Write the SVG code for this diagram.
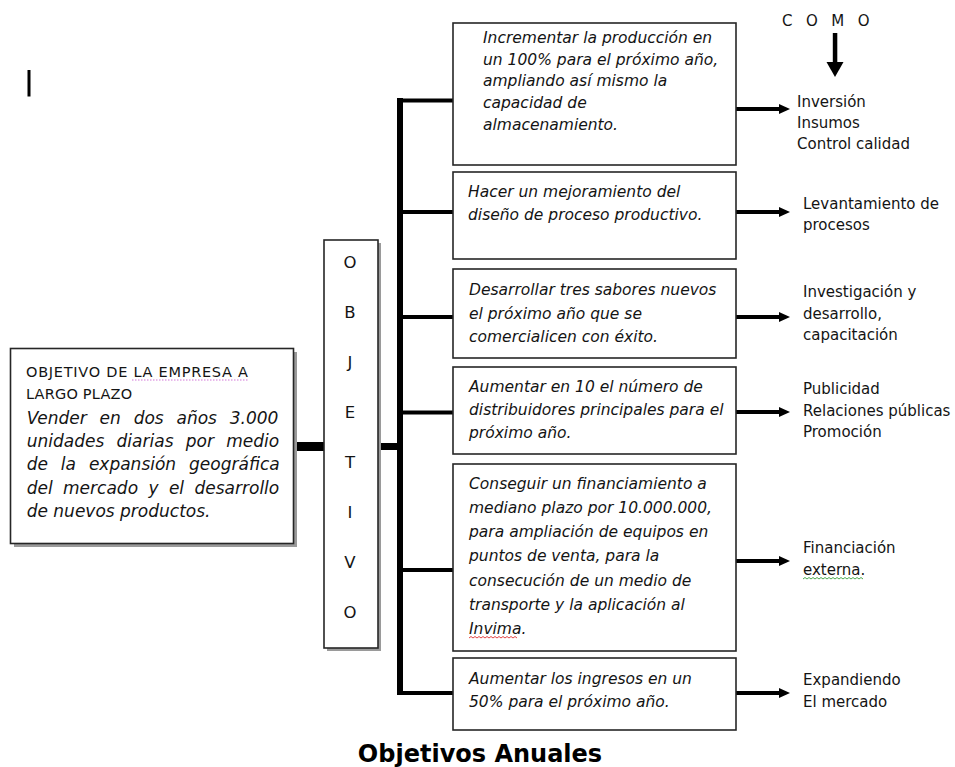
<svg xmlns="http://www.w3.org/2000/svg" width="955" height="767" viewBox="0 0 955 767">
<style>
.box{fill:#fff;stroke:#262626;stroke-width:1.6}
.shadow{fill:#9a9a9a}
.it{font-family:"DejaVu Sans",Verdana,sans-serif;font-style:italic;font-size:15.5px;fill:#141414}
.lt{font-family:"DejaVu Sans",Verdana,sans-serif;font-style:italic;font-size:17px;fill:#141414}
.up{font-family:"DejaVu Sans",Verdana,sans-serif;font-size:14.5px;fill:#141414}
.lab{font-family:"DejaVu Sans",Verdana,sans-serif;font-size:15px;fill:#141414}
.vl{font-family:"DejaVu Sans",Verdana,sans-serif;font-size:16.5px;fill:#141414;text-anchor:middle}
.br{stroke:#000;stroke-width:4;fill:none}
.ar{stroke:#000;stroke-width:4;fill:none;marker-end:url(#ah)}
.title{font-family:"DejaVu Sans",Verdana,sans-serif;font-weight:bold;font-size:24px;fill:#000;text-anchor:middle}
</style>
<defs>
<marker id="ah" markerUnits="userSpaceOnUse" markerWidth="12" markerHeight="11" refX="3" refY="5" orient="auto">
<path d="M0,0 L11,5 L0,10 z" fill="#000"/>
</marker>
</defs>
<rect width="955" height="767" fill="#fff"/>

<rect x="27.5" y="70" width="3" height="26.5" fill="#000"/>

<g id="connectors">
<rect x="294" y="442" width="31" height="9" fill="#000"/>
<rect x="378" y="443" width="22" height="7" fill="#000"/>
<rect x="397" y="98" width="6" height="597" fill="#000"/>
<line class="br" x1="400" y1="100.5" x2="454" y2="100.5"/>
<line class="br" x1="400" y1="212" x2="454" y2="212"/>
<line class="br" x1="400" y1="317" x2="454" y2="317"/>
<line class="br" x1="400" y1="412.5" x2="454" y2="412.5"/>
<line class="br" x1="400" y1="570" x2="454" y2="570"/>
<line class="br" x1="400" y1="693" x2="454" y2="693"/>
<line class="ar" x1="736" y1="109" x2="782" y2="109"/>
<line class="ar" x1="736" y1="212" x2="782" y2="212"/>
<line class="ar" x1="736" y1="317" x2="782" y2="317"/>
<line class="ar" x1="736" y1="412" x2="782" y2="412"/>
<line class="ar" x1="736" y1="561" x2="782" y2="561"/>
<line class="ar" x1="736" y1="693" x2="782" y2="693"/>
<rect x="832.8" y="33" width="4.5" height="31" fill="#000"/>
<path d="M826.5,62 L843.5,62 L835,77 z" fill="#000"/>
</g>

<g id="objetivo-empresa">
<rect class="shadow" x="14" y="352" width="283" height="195"/>
<rect class="box" x="10.5" y="348.5" width="283" height="195"/>
<text class="up" x="26" y="377" textLength="222" lengthAdjust="spacing">OBJETIVO DE LA EMPRESA A</text>
<line x1="132" y1="380" x2="248" y2="380" stroke="#d277d8" stroke-width="1.2" stroke-dasharray="1.5 1.5"/>
<text class="up" x="26" y="398.5" letter-spacing="0.2">LARGO PLAZO</text>
<text class="lt" x="26.7" y="424" word-spacing="7.4">Vender en dos años 3.000</text>
<text class="lt" x="26.7" y="447" word-spacing="6.9">unidades diarias por medio</text>
<text class="lt" x="26.7" y="470" word-spacing="7.5">de la expansión geográfica</text>
<text class="lt" x="26.7" y="494" word-spacing="5.0">del mercado y el desarrollo</text>
<text class="lt" x="26.7" y="517">de nuevos productos.</text>
</g>

<g id="objetivo-col">
<rect class="shadow" x="327" y="243" width="54" height="408"/>
<rect class="box" x="324" y="240" width="54" height="408"/>
<text class="vl" x="350" y="267.5">O</text>
<text class="vl" x="350" y="317.5">B</text>
<text class="vl" x="350" y="368">J</text>
<text class="vl" x="350" y="418">E</text>
<text class="vl" x="350" y="468">T</text>
<text class="vl" x="350" y="518">I</text>
<text class="vl" x="350" y="567.5">V</text>
<text class="vl" x="350" y="617.5">O</text>
</g>

<g id="obj1">
<rect class="box" x="453" y="23" width="283" height="142"/>
<text class="it" x="483" y="43">Incrementar la producción en</text>
<text class="it" x="483" y="64.5">un 100% para el próximo año,</text>
<text class="it" x="483" y="86">ampliando así mismo la</text>
<text class="it" x="483" y="108">capacidad de</text>
<text class="it" x="483" y="130">almacenamiento.</text>
</g>

<g id="obj2">
<rect class="box" x="453" y="172" width="283" height="87"/>
<text class="it" x="468" y="196.5">Hacer un mejoramiento del</text>
<text class="it" x="468" y="220">diseño de proceso productivo.</text>
</g>

<g id="obj3">
<rect class="box" x="453" y="269" width="283" height="89"/>
<text class="it" x="469" y="295">Desarrollar tres sabores nuevos</text>
<text class="it" x="469" y="319">el próximo año que se</text>
<text class="it" x="469" y="342">comercialicen con éxito.</text>
</g>

<g id="obj4">
<rect class="box" x="453" y="367" width="283" height="87"/>
<text class="it" x="469" y="392">Aumentar en 10 el número de</text>
<text class="it" x="469" y="415">distribuidores principales para el</text>
<text class="it" x="469" y="438">próximo año.</text>
</g>

<g id="obj5">
<rect class="box" x="453" y="464" width="283" height="187"/>
<text class="it" x="469" y="488.5">Conseguir un financiamiento a</text>
<text class="it" x="469" y="512.5">mediano plazo por 10.000.000,</text>
<text class="it" x="469" y="536.5">para ampliación de equipos en</text>
<text class="it" x="469" y="561">puntos de venta, para la</text>
<text class="it" x="469" y="585.5">consecución de un medio de</text>
<text class="it" x="469" y="610">transporte y la aplicación al</text>
<text class="it" x="469" y="634">Invima.</text>
<path d="M469,638 l2,-1.5 l2,1.5 l2,-1.5 l2,1.5 l2,-1.5 l2,1.5 l2,-1.5 l2,1.5 l2,-1.5 l2,1.5 l2,-1.5 l2,1.5 l2,-1.5 l2,1.5 l2,-1.5 l2,1.5 l2,-1.5 l2,1.5 l2,-1.5 l2,1.5 l2,-1.5 l2,1.5 l2,-1.5 l2,1.5" stroke="#e03030" stroke-width="0.9" fill="none"/>
</g>

<g id="obj6">
<rect class="box" x="453" y="658" width="283" height="72"/>
<text class="it" x="469" y="683.5">Aumentar los ingresos en un</text>
<text class="it" x="469" y="707">50% para el próximo año.</text>
</g>

<g id="como">
<text class="lab" x="782" y="25.5" letter-spacing="13.5">COMO</text>
</g>

<g id="lab1">
<text class="lab" x="797" y="106.5">Inversión</text>
<text class="lab" x="797" y="127.5">Insumos</text>
<text class="lab" x="797" y="148.5">Control calidad</text>
</g>
<g id="lab2">
<text class="lab" x="803" y="208.5">Levantamiento de</text>
<text class="lab" x="803" y="230">procesos</text>
</g>
<g id="lab3">
<text class="lab" x="803" y="297">Investigación y</text>
<text class="lab" x="803" y="318.5">desarrollo,</text>
<text class="lab" x="803" y="340">capacitación</text>
</g>
<g id="lab4">
<text class="lab" x="803" y="394">Publicidad</text>
<text class="lab" x="803" y="415.5">Relaciones públicas</text>
<text class="lab" x="803" y="437">Promoción</text>
</g>
<g id="lab5">
<text class="lab" x="803" y="552.5">Financiación</text>
<text class="lab" x="803" y="575">externa.</text>
<path d="M803,579 l2,-1.5 l2,1.5 l2,-1.5 l2,1.5 l2,-1.5 l2,1.5 l2,-1.5 l2,1.5 l2,-1.5 l2,1.5 l2,-1.5 l2,1.5 l2,-1.5 l2,1.5 l2,-1.5 l2,1.5 l2,-1.5 l2,1.5 l2,-1.5 l2,1.5 l2,-1.5 l2,1.5 l2,-1.5 l2,1.5 l2,-1.5 l2,1.5 l2,-1.5 l2,1.5 l2,-1.5 l2,1.5" stroke="#3aa040" stroke-width="0.9" fill="none"/>
</g>
<g id="lab6">
<text class="lab" x="803" y="685">Expandiendo</text>
<text class="lab" x="803" y="707">El mercado</text>
</g>

<text class="title" x="480" y="762">Objetivos Anuales</text>
</svg>
